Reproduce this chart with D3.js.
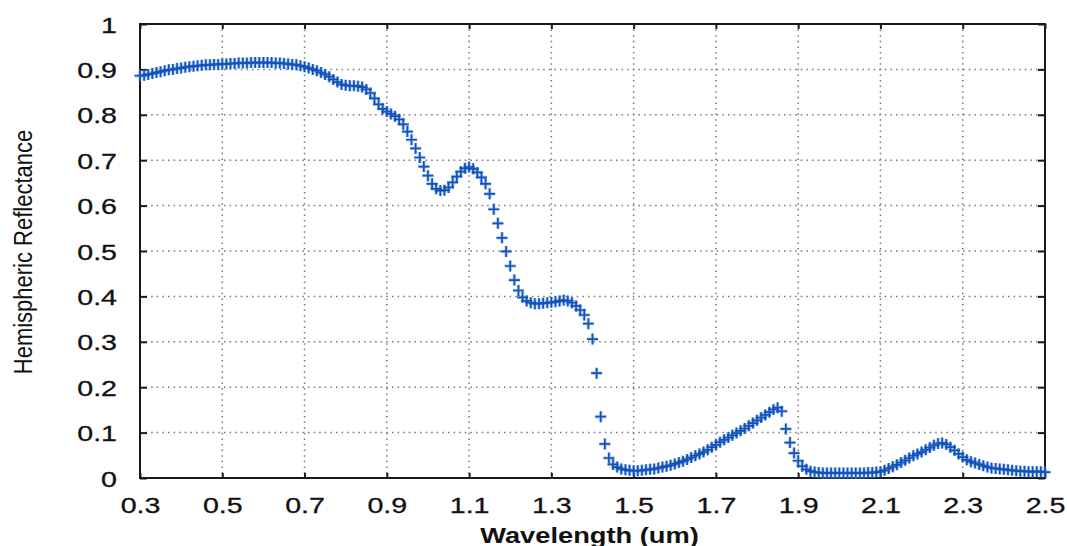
<!DOCTYPE html>
<html>
<head>
<meta charset="utf-8">
<script src="https://cdn.jsdelivr.net/npm/d3@7"></script>
<style>
  html, body { margin: 0; padding: 0; background: #fff; }
  svg { display: block; font-family: "Liberation Sans", Arial, sans-serif; }
</style>
</head>
<body>
<svg id="chart" width="1067" height="546"></svg>
<script>
// 光谱采样点（µm）
const wavelength = [
  0.30, 0.31, 0.32, 0.33, 0.34, 0.35, 0.36, 0.37, 0.38, 0.39,
  0.40, 0.41, 0.42, 0.43, 0.44, 0.45, 0.46, 0.47, 0.48, 0.49,
  0.50, 0.51, 0.52, 0.53, 0.54, 0.55, 0.56, 0.57, 0.58, 0.59,
  0.60, 0.61, 0.62, 0.63, 0.64, 0.65, 0.66, 0.67, 0.68, 0.69,
  0.70, 0.71, 0.72, 0.73, 0.74, 0.75, 0.76, 0.77, 0.78, 0.79,
  0.80, 0.81, 0.82, 0.83, 0.84, 0.85, 0.86, 0.87, 0.88, 0.89,
  0.90, 0.91, 0.92, 0.93, 0.94, 0.95, 0.96, 0.97, 0.98, 0.99,
  1.00, 1.01, 1.02, 1.03, 1.04, 1.05, 1.06, 1.07, 1.08, 1.09,
  1.10, 1.11, 1.12, 1.13, 1.14, 1.15, 1.16, 1.17, 1.18, 1.19,
  1.20, 1.21, 1.22, 1.23, 1.24, 1.25, 1.26, 1.27, 1.28, 1.29,
  1.30, 1.31, 1.32, 1.33, 1.34, 1.35, 1.36, 1.37, 1.38, 1.39,
  1.40, 1.41, 1.42, 1.43, 1.44, 1.45, 1.46, 1.47, 1.48, 1.49,
  1.50, 1.51, 1.52, 1.53, 1.54, 1.55, 1.56, 1.57, 1.58, 1.59,
  1.60, 1.61, 1.62, 1.63, 1.64, 1.65, 1.66, 1.67, 1.68, 1.69,
  1.70, 1.71, 1.72, 1.73, 1.74, 1.75, 1.76, 1.77, 1.78, 1.79,
  1.80, 1.81, 1.82, 1.83, 1.84, 1.85, 1.86, 1.87, 1.88, 1.89,
  1.90, 1.91, 1.92, 1.93, 1.94, 1.95, 1.96, 1.97, 1.98, 1.99,
  2.00, 2.01, 2.02, 2.03, 2.04, 2.05, 2.06, 2.07, 2.08, 2.09,
  2.10, 2.11, 2.12, 2.13, 2.14, 2.15, 2.16, 2.17, 2.18, 2.19,
  2.20, 2.21, 2.22, 2.23, 2.24, 2.25, 2.26, 2.27, 2.28, 2.29,
  2.30, 2.31, 2.32, 2.33, 2.34, 2.35, 2.36, 2.37, 2.38, 2.39,
  2.40, 2.41, 2.42, 2.43, 2.44, 2.45, 2.46, 2.47, 2.48, 2.49,
  2.50
];

// 半球反射率（与上面一一对应，按图读数）
const reflectance = [
  0.886, 0.887, 0.889, 0.891, 0.893, 0.895, 0.897, 0.899, 0.900, 0.902,
  0.903, 0.905, 0.906, 0.907, 0.908, 0.909, 0.910, 0.910, 0.911, 0.911,
  0.912, 0.912, 0.913, 0.913, 0.914, 0.914, 0.914, 0.915, 0.915, 0.915,
  0.915, 0.915, 0.915, 0.914, 0.914, 0.913, 0.912, 0.911, 0.910, 0.908,
  0.906, 0.903, 0.900, 0.897, 0.893, 0.889, 0.884, 0.878, 0.872, 0.867,
  0.865, 0.864, 0.864, 0.863, 0.861, 0.856, 0.848, 0.836, 0.823, 0.813,
  0.807, 0.802, 0.797, 0.790, 0.779, 0.763, 0.745, 0.726, 0.706, 0.686,
  0.666, 0.648, 0.637, 0.633, 0.634, 0.640, 0.651, 0.664, 0.675, 0.682,
  0.685, 0.681, 0.673, 0.662, 0.648, 0.626, 0.592, 0.561, 0.529, 0.499,
  0.467, 0.436, 0.413, 0.398, 0.390, 0.386, 0.384, 0.384, 0.385, 0.386,
  0.387, 0.388, 0.390, 0.392, 0.390, 0.386, 0.379, 0.370, 0.359, 0.340,
  0.306, 0.231, 0.135, 0.075, 0.044, 0.030, 0.024, 0.020, 0.018, 0.017,
  0.016, 0.016, 0.017, 0.018, 0.019, 0.020, 0.022, 0.024, 0.026, 0.028,
  0.031, 0.034, 0.037, 0.041, 0.045, 0.049, 0.053, 0.057, 0.062, 0.068,
  0.073, 0.079, 0.084, 0.089, 0.094, 0.099, 0.104, 0.109, 0.115, 0.121,
  0.127, 0.133, 0.139, 0.145, 0.151, 0.155, 0.147, 0.108, 0.078, 0.055,
  0.038, 0.026, 0.019, 0.015, 0.013, 0.012, 0.011, 0.011, 0.011, 0.011,
  0.011, 0.011, 0.011, 0.011, 0.011, 0.011, 0.011, 0.012, 0.012, 0.013,
  0.014, 0.017, 0.021, 0.025, 0.029, 0.034, 0.039, 0.044, 0.049, 0.053,
  0.057, 0.062, 0.067, 0.072, 0.076, 0.077, 0.074, 0.068, 0.061, 0.053,
  0.046, 0.040, 0.036, 0.033, 0.030, 0.027, 0.024, 0.022, 0.021, 0.020,
  0.019, 0.018, 0.017, 0.016, 0.015, 0.015, 0.014, 0.014, 0.014, 0.014,
  0.013
];

const xTicks = [0.3, 0.5, 0.7, 0.9, 1.1, 1.3, 1.5, 1.7, 1.9, 2.1, 2.3, 2.5];
const xTickLabels = ['0.3', '0.5', '0.7', '0.9', '1.1', '1.3', '1.5', '1.7', '1.9', '2.1', '2.3', '2.5'];
const yTicks = [0, 0.1, 0.2, 0.3, 0.4, 0.5, 0.6, 0.7, 0.8, 0.9, 1];
const yTickLabels = ['0', '0.1', '0.2', '0.3', '0.4', '0.5', '0.6', '0.7', '0.8', '0.9', '1'];

const xLabel = 'Wavelength (um)';
const yLabel = 'Hemispheric Reflectance';

// 版面
const L = 140, R = 1045, T = 24, B = 478;
const STRETCH = 1.3; // 原图文字横向被拉宽
const BLUE = '#1552b8', HALO = '#6fa6ea';

const svg = d3.select('#chart');
const x = d3.scaleLinear().domain([0.3, 2.5]).range([L, R]);
const y = d3.scaleLinear().domain([0, 1]).range([B, T]);

svg.append('rect').attr('width', 1067).attr('height', 546).attr('fill', '#fff');

// 点状网格
const grid = svg.append('g').attr('stroke', '#767676').attr('stroke-width', 1.5)
  .attr('stroke-dasharray', '1.5,4.1');
grid.selectAll('line.gx').data(xTicks.slice(1, -1)).enter().append('line')
  .attr('x1', (d) => x(d)).attr('x2', (d) => x(d)).attr('y1', T).attr('y2', B);
grid.selectAll('line.gy').data(yTicks.slice(1, -1)).enter().append('line')
  .attr('x1', L).attr('x2', R).attr('y1', (d) => y(d)).attr('y2', (d) => y(d));

// 四边刻度（朝内）
const axB = svg.append('g').attr('transform', `translate(0,${B})`)
  .call(d3.axisBottom(x).tickValues(xTicks).tickSizeInner(-5).tickSizeOuter(0).tickFormat((d, i) => xTickLabels[i]));
const axT = svg.append('g').attr('transform', `translate(0,${T})`)
  .call(d3.axisTop(x).tickValues(xTicks).tickSizeInner(-5).tickSizeOuter(0).tickFormat(''));
const axL = svg.append('g').attr('transform', `translate(${L},0)`)
  .call(d3.axisLeft(y).tickValues(yTicks).tickSizeInner(-7).tickSizeOuter(0).tickFormat((d, i) => yTickLabels[i]));
const axR = svg.append('g').attr('transform', `translate(${R},0)`)
  .call(d3.axisRight(y).tickValues(yTicks).tickSizeInner(-7).tickSizeOuter(0).tickFormat(''));

[axB, axT, axL, axR].forEach((g) => {
  g.select('.domain').remove();
  g.selectAll('.tick line').attr('stroke', '#1a1a1a').attr('stroke-width', 2);
});

axB.selectAll('.tick text')
  .attr('y', null).attr('dy', null)
  .attr('font-size', 22).attr('fill', '#111').attr('stroke', '#111').attr('stroke-width', 0.3)
  .attr('transform', `translate(0,35) scale(${STRETCH},1)`);
axL.selectAll('.tick text')
  .attr('x', null).attr('dy', null)
  .attr('font-size', 22).attr('fill', '#111').attr('stroke', '#111').attr('stroke-width', 0.3)
  .attr('transform', `translate(-23,8) scale(${STRETCH},1)`);

// 外框
svg.append('rect').attr('x', L).attr('y', T).attr('width', R - L).attr('height', B - T)
  .attr('fill', 'none').attr('stroke', '#1a1a1a').attr('stroke-width', 2);

// 数据点：十字标记
const pts = wavelength.map((w, i) => ({ w, r: reflectance[i] }));
const plus = 'M-5.5,0H5.5M0,-5.5V5.5';
svg.append('g').selectAll('path').data(pts).enter().append('path')
  .attr('d', plus).attr('transform', (d) => `translate(${x(d.w)},${y(d.r)})`)
  .attr('stroke', HALO).attr('stroke-width', 3.4).attr('stroke-opacity', 0.55).attr('fill', 'none');
svg.append('g').selectAll('path').data(pts).enter().append('path')
  .attr('d', plus).attr('transform', (d) => `translate(${x(d.w)},${y(d.r)})`)
  .attr('stroke', BLUE).attr('stroke-width', 1.7).attr('fill', 'none');

// 轴标题
svg.append('text')
  .attr('transform', `translate(${(L + R) / 2 - 3},543) scale(1.24,1)`)
  .attr('text-anchor', 'middle').attr('font-size', 22).attr('font-weight', 'bold').attr('fill', '#111')
  .text(xLabel);
svg.append('text')
  .attr('transform', `translate(32,252) scale(1.2,1) rotate(-90)`)
  .attr('text-anchor', 'middle').attr('font-size', 22).attr('fill', '#111')
  .text(yLabel);
</script>
</body>
</html>
